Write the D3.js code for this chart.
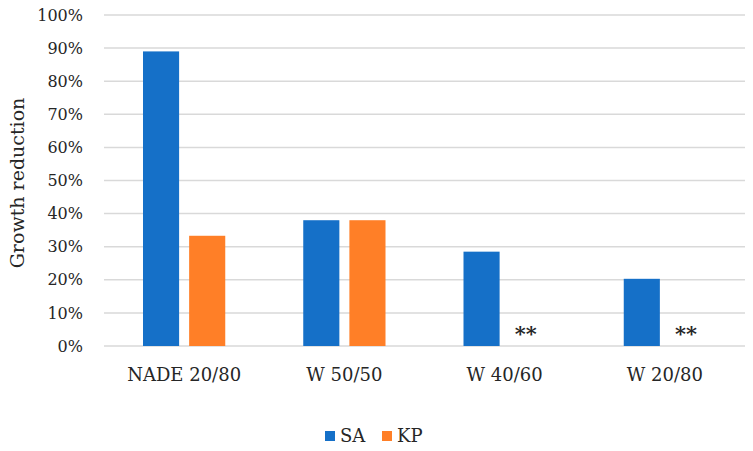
<!DOCTYPE html>
<html><head><meta charset="utf-8">
<script src="https://cdn.jsdelivr.net/npm/d3@7"></script>
<style>body{margin:0;background:#fff}svg{display:block}</style>
</head><body>
<svg id="c" width="753" height="451"></svg>
<script>
const categories = ["NADE 20/80", "W 50/50", "W 40/60", "W 20/80"];
const seriesNames = ["SA", "KP"];
const saValues = [0.89, 0.38, 0.285, 0.203];
const kpValues = [0.333, 0.38, null, null];
const yTicks = [0,0.1,0.2,0.3,0.4,0.5,0.6,0.7,0.8,0.9,1.0];
const colors = ["#1570c8", "#ff7f27"];
const missingMark = "**";

(function(){
const svg = d3.select("#c");
const font = "DejaVu Serif";
const textColor = "#262626";
const mLeft = 104, mRight = 745, mTop = 15, mBottom = 346;

const x = d3.scaleBand().domain(categories).range([mLeft, mRight]).paddingInner(0).paddingOuter(0);
const y = d3.scaleLinear().domain([0, 1]).range([mBottom, mTop]);
const inner = d3.scaleBand().domain(seriesNames).range([39, x.bandwidth() - 39]).paddingInner(10/46);

svg.append("g").selectAll("line").data(yTicks).join("line")
  .attr("x1", mLeft).attr("x2", mRight)
  .attr("y1", d => y(d)).attr("y2", d => y(d))
  .attr("stroke", "#d9d9d9").attr("stroke-width", 1.5);

const yAxis = d3.axisLeft(y).tickValues(yTicks).tickFormat(d3.format(".0%")).tickSize(0).tickPadding(0);
const ga = svg.append("g").attr("transform", `translate(${mLeft - 21},0)`).call(yAxis);
ga.select(".domain").remove();
ga.selectAll("text").attr("font-family", font).attr("font-size", 16).attr("fill", textColor);

const xAxis = d3.axisBottom(x).tickSize(0).tickPadding(0);
const gx = svg.append("g").attr("transform", `translate(0,${mBottom + 22})`).call(xAxis);
gx.select(".domain").remove();
gx.selectAll("text").attr("font-family", font).attr("font-size", 18).attr("fill", textColor);

const data = [];
categories.forEach((c, i) => {
  data.push({cat: c, s: "SA", v: saValues[i]});
  data.push({cat: c, s: "KP", v: kpValues[i]});
});
svg.append("g").selectAll("rect").data(data.filter(d => d.v != null)).join("rect")
  .attr("x", d => x(d.cat) + inner(d.s))
  .attr("width", inner.bandwidth())
  .attr("y", d => y(d.v))
  .attr("height", d => y(0) - y(d.v))
  .attr("fill", d => colors[seriesNames.indexOf(d.s)]);

svg.append("g").selectAll("text").data(data.filter(d => d.v == null)).join("text")
  .attr("x", d => x(d.cat) + inner(d.s) + inner.bandwidth()/2 - 2)
  .attr("y", mBottom - 5)
  .attr("text-anchor", "middle")
  .attr("font-family", font).attr("font-size", 21).attr("font-weight", "bold")
  .attr("fill", textColor)
  .text(missingMark);

svg.append("text")
  .attr("transform", "translate(24,183) rotate(-90)")
  .attr("text-anchor", "middle")
  .attr("font-family", font).attr("font-size", 19).attr("fill", textColor)
  .text("Growth reduction");

const legX = [325, 382];
const lg = svg.append("g").selectAll("g").data(seriesNames).join("g")
  .attr("transform", (d, i) => `translate(${legX[i]},431)`);
lg.append("rect").attr("width", 10).attr("height", 10).attr("fill", (d, i) => colors[i]);
lg.append("text").attr("x", 15).attr("y", 10.5)
  .attr("font-family", font).attr("font-size", 18).attr("fill", textColor)
  .text(d => d);
})();
</script>
</body></html>
